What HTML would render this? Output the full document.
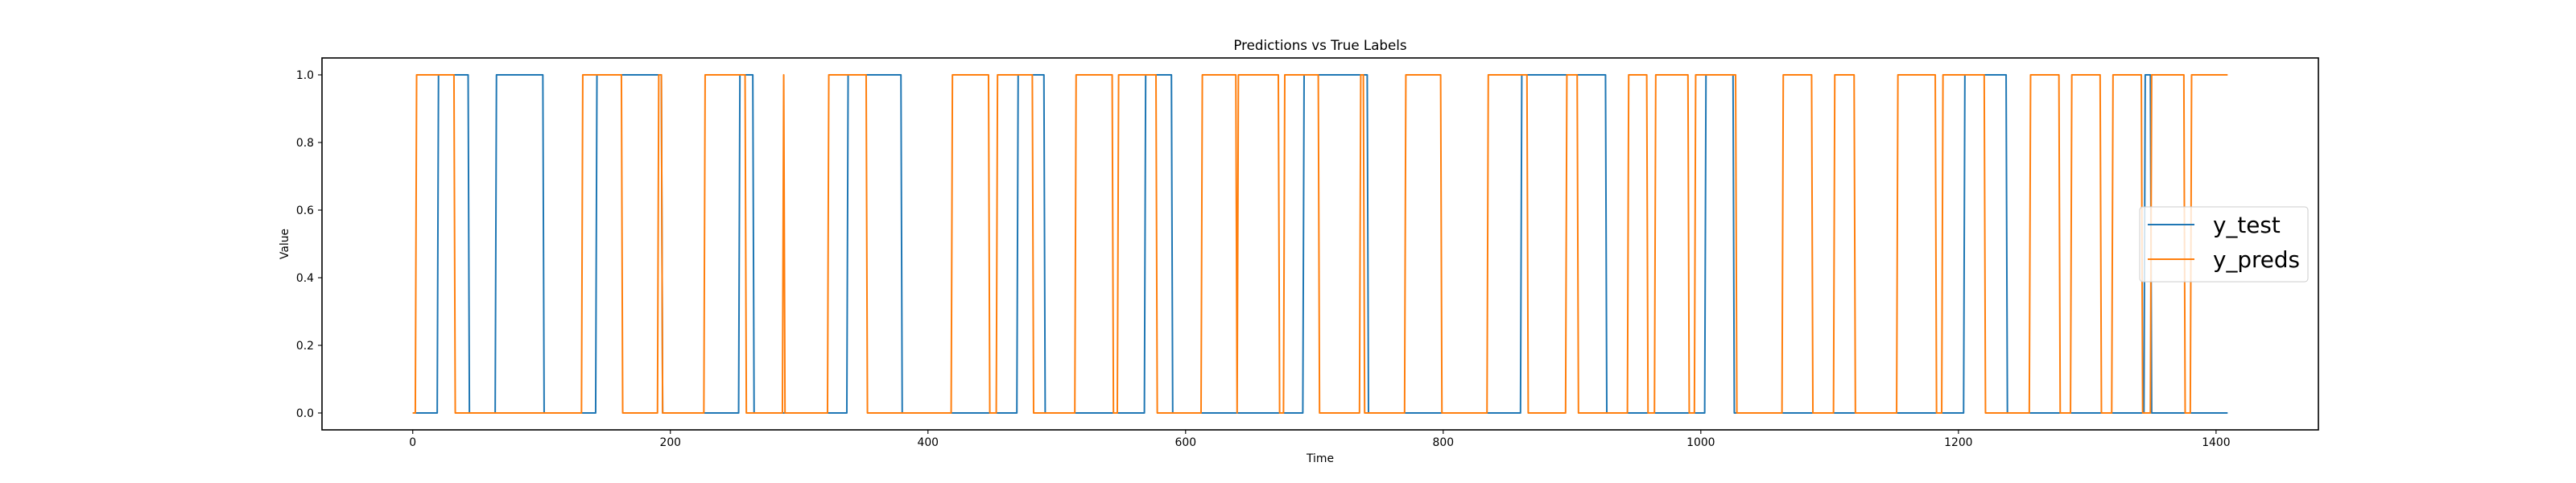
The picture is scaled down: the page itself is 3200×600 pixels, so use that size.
<!DOCTYPE html>
<html><head><meta charset="utf-8"><style>
html,body{margin:0;padding:0;background:#fff;}
svg{display:block;font-family:"DejaVu Sans","Liberation Sans",sans-serif;}
</style></head><body>
<svg id="chart" width="3200" height="600" viewBox="0 0 3200 600">
<rect x="0" y="0" width="3200" height="600" fill="#fff"/>
<text x="1640" y="62" font-size="16.7" text-anchor="middle" fill="#000">Predictions vs True Labels</text>
<g id="axes"></g>
<g id="series"></g>
<rect x="400" y="72" width="2480" height="462" fill="none" stroke="#000" stroke-width="1.6"/>
<text x="1640" y="574" font-size="13.9" text-anchor="middle">Time</text>
<text x="358" y="303" font-size="13.9" text-anchor="middle" transform="rotate(-90 358 303)">Value</text>
<g>
<rect x="2658" y="257" width="209" height="93" rx="4" fill="#fff" fill-opacity="0.8" stroke="#ccc" stroke-width="1"/>
<line x1="2668" y1="279" x2="2726" y2="279" stroke="#1f77b4" stroke-width="2"/>
<text x="2749" y="289" font-size="27.8">y_test</text>
<line x1="2668" y1="322" x2="2726" y2="322" stroke="#ff7f0e" stroke-width="2"/>
<text x="2749" y="332" font-size="27.8">y_preds</text>
</g>
</svg>
<script>
const nPoints = 1410;
const yTestOnRuns = [[20,43],[65,101],[143,193],[254,264],[338,379],[470,490],[569,589],[692,741],[861,926],[1004,1025],[1205,1237],[1345,1349]];
const yPredsOnRuns = [[3,32],[132,162],[191,193],[227,258],[288,288],[323,352],[419,447],[454,481],[515,543],[548,577],[613,639],[641,672],[677,703],[736,738],[771,798],[835,865],[896,904],[944,958],[965,990],[996,1027],[1064,1086],[1104,1119],[1153,1182],[1188,1220],[1256,1278],[1288,1310],[1320,1342],[1350,1375],[1381,1409]];
const xTicks = [0,200,400,600,800,1000,1200,1400];
const xTickLabels = ["0","200","400","600","800","1000","1200","1400"];
const yTicks = [0,0.2,0.4,0.6,0.8,1.0];
const yTickLabels = ["0.0","0.2","0.4","0.6","0.8","1.0"];

const NS = "http://www.w3.org/2000/svg";
const span = nPoints - 1;
const xMin = -0.05*span, xMax = span*1.05;
function xs(v){ return 400 + (v - xMin)/(xMax - xMin)*2480; }
function ys(v){ return 534 - (v + 0.05)/1.1*462; }
function expand(runs){
  const a = new Array(nPoints).fill(0);
  runs.forEach(r => { for(let i=r[0]; i<=r[1] && i<nPoints; i++) a[i]=1; });
  return a;
}
const axes = document.getElementById('axes');
xTicks.forEach((t,i) => {
  const l = document.createElementNS(NS,'line');
  l.setAttribute('x1', xs(t)); l.setAttribute('x2', xs(t));
  l.setAttribute('y1', 534); l.setAttribute('y2', 539);
  l.setAttribute('stroke', '#000'); l.setAttribute('stroke-width', '1.1');
  
  
  axes.appendChild(l);
  const tx = document.createElementNS(NS,'text');
  tx.setAttribute('x', xs(t)); tx.setAttribute('y', 554);
  tx.setAttribute('font-size', '13.9'); tx.setAttribute('text-anchor', 'middle');
  tx.textContent = xTickLabels[i];
  
  
  axes.appendChild(tx);
});
yTicks.forEach((t,i) => {
  const l = document.createElementNS(NS,'line');
  l.setAttribute('x1', 395); l.setAttribute('x2', 400);
  l.setAttribute('y1', ys(t)); l.setAttribute('y2', ys(t));
  l.setAttribute('stroke', '#000'); l.setAttribute('stroke-width', '1.1');
  
  
  axes.appendChild(l);
  const tx = document.createElementNS(NS,'text');
  tx.setAttribute('x', 390); tx.setAttribute('y', ys(t)+5);
  tx.setAttribute('font-size', '13.9'); tx.setAttribute('text-anchor', 'end');
  tx.textContent = yTickLabels[i];
  
  
  axes.appendChild(tx);
});
const series = document.getElementById('series');
function drawSeries(vals, color, name){
  const p = document.createElementNS(NS,'polyline');
  p.setAttribute('points', vals.map((v,i) => xs(i).toFixed(2)+','+ys(v).toFixed(2)).join(' '));
  p.setAttribute('fill', 'none'); p.setAttribute('stroke', color);
  p.setAttribute('stroke-width', '2'); p.setAttribute('stroke-linejoin', 'round');
  
  
  series.appendChild(p);
}
drawSeries(expand(yTestOnRuns), '#1f77b4', 'y-test-line');
drawSeries(expand(yPredsOnRuns), '#ff7f0e', 'y-preds-line');
</script>
</body></html>
